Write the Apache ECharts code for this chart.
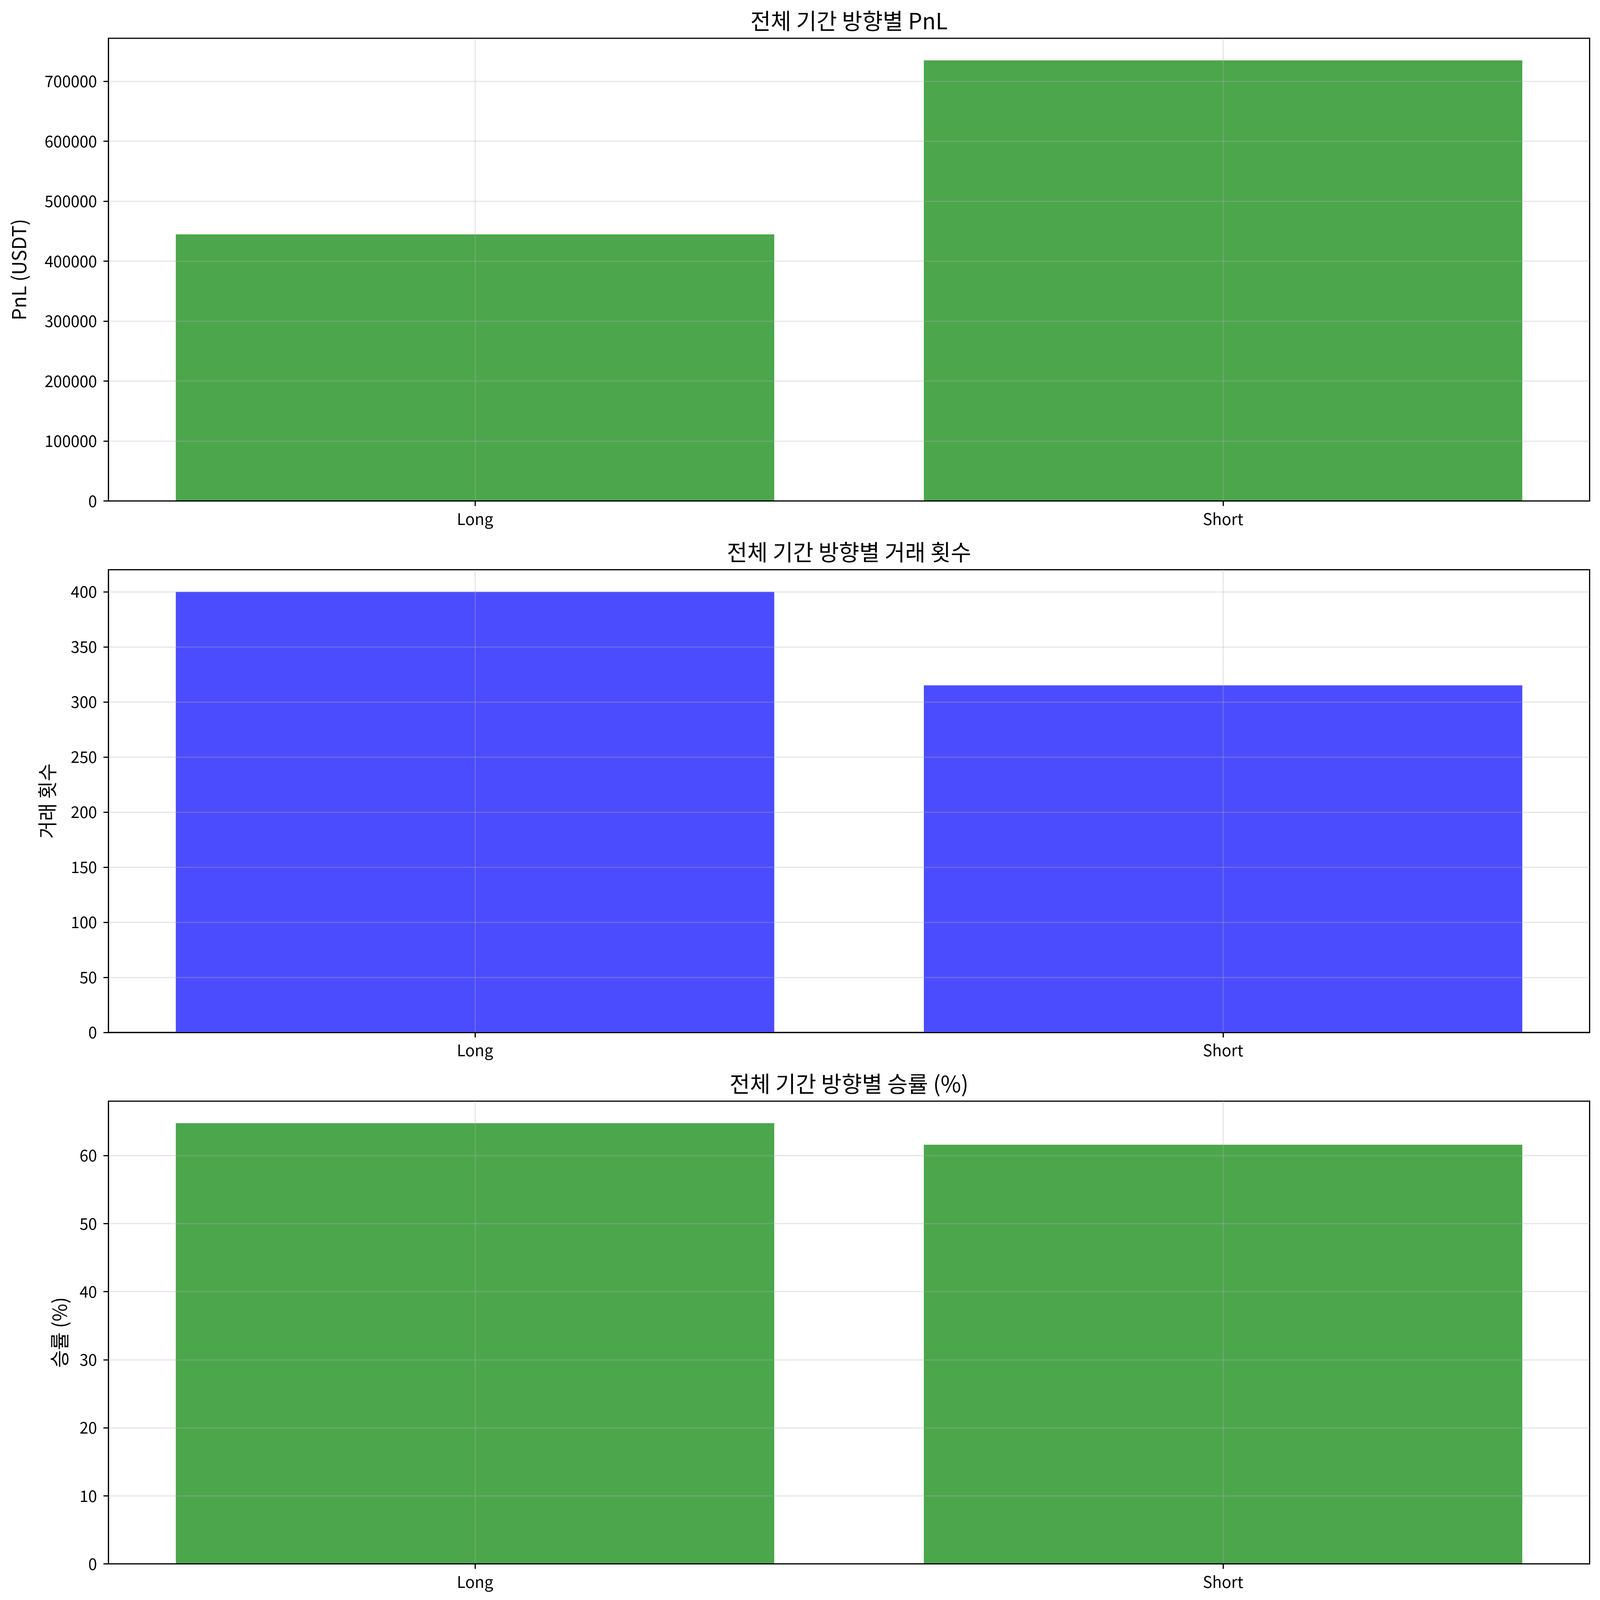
<!DOCTYPE html>
<html>
<head>
<meta charset="utf-8">
<script src="https://cdn.jsdelivr.net/npm/echarts@6/dist/echarts.min.js"></script>
<style>
  html, body { margin: 0; padding: 0; background: #fff; overflow: hidden; }
  #main { width: 100vw; height: 100vh; }
</style>
</head>
<body>
<div id="main"></div>
<script>
// 방향 (x축 카테고리)
var sides = ['Long', 'Short'];

// 방향별 데이터
var pnlValues = [444600, 734900];
var tradeCounts = [400, 315];
var winRates = [64.75, 61.59];

// y축 눈금
var pnlTicks = [0, 100000, 200000, 300000, 400000, 500000, 600000, 700000];
var countTicks = [0, 50, 100, 150, 200, 250, 300, 350, 400];
var rateTicks = [0, 10, 20, 30, 40, 50, 60];

var titles = ['전체 기간 방향별 PnL', '전체 기간 방향별 거래 횟수', '전체 기간 방향별 승률 (%)'];
var yNames = ['PnL (USDT)', '거래 횟수', '승률 (%)'];

var FONT = '"Noto Sans CJK KR", "Noto Sans", sans-serif';
var GREEN = '#4ca64c';
var BLUE = '#4c4cff';
var GRID_COLOR = 'rgba(176,176,176,0.3)';

var dom = document.getElementById('main');
// 실제 뷰포트 크기에 맞춰 스케일
var W = dom.clientWidth || window.innerWidth;
var H = dom.clientHeight || window.innerHeight;
var sx = W / 4469, sy = H / 4471, sf = Math.min(sx, sy);

var chart = echarts.init(dom);

var plotLeft = 303, plotRight = 29, plotH = 1293;
var plotTops = [107, 1592, 3077];
var nameGaps = [223, 144, 110];

// 카테고리 위치 (0, 1) - matplotlib 처럼 양쪽 여백 포함
var sidePos = sides.map(function (s, i) { return i; });

function plainNum(v) {
    return String(v);
}

function xAxisFor(i) {
    return {
        type: 'value',
        gridIndex: i,
        min: -0.49,
        max: 1.49,
        z: 3,
        axisLine: { show: true, onZero: false, lineStyle: { color: '#000', width: 3.3 * sf } },
        axisTick: { show: true, length: 14 * sy, customValues: sidePos, lineStyle: { color: '#000', width: 3.3 * sf } },
        axisLabel: {
            color: '#000', fontSize: 44 * sf, fontFamily: FONT, margin: 28 * sy,
            customValues: sidePos,
            formatter: function (v) { return sides[Math.round(v)]; }
        },
        splitLine: { show: true, lineStyle: { color: GRID_COLOR, width: 3.3 * sf } }
    };
}

function yAxisFor(i, vals, ticks, step) {
    //matplotlib 기본 여백 5%
    var top = Math.max.apply(null, vals) * 1.05;
    return {
        type: 'value',
        gridIndex: i,
        min: 0,
        max: top,
        interval: step,
        z: 3,
        name: yNames[i],
        nameLocation: 'middle',
        nameRotate: 90,
        nameGap: nameGaps[i] * sx,
        nameTextStyle: { color: '#000', fontSize: 54 * sf, fontFamily: FONT },
        axisLine: { show: true, onZero: false, lineStyle: { color: '#000', width: 3.3 * sf } },
        axisTick: { show: true, length: 14 * sx, customValues: ticks, lineStyle: { color: '#000', width: 3.3 * sf } },
        axisLabel: { color: '#000', fontSize: 44 * sf, fontFamily: FONT, margin: 32 * sx, customValues: ticks, formatter: plainNum },
        splitLine: { show: true, lineStyle: { color: GRID_COLOR, width: 3.3 * sf } }
    };
}

function barSeries(i, vals, color) {
    return {
        type: 'bar',
        xAxisIndex: i,
        yAxisIndex: i,
        data: vals.map(function (v, k) { return [sidePos[k], v]; }),
        barWidth: '80%',
        itemStyle: { color: color },
        z: 2
    };
}

var option = {
    backgroundColor: '#fff',
    animation: false,
    title: titles.map(function (t, i) {
        return {
            text: t,
            left: (plotLeft + (4469 - plotLeft - plotRight) / 2) * sx,
            top: (plotTops[i] - 80) * sy,
            textAlign: 'center',
            padding: 0,
            textStyle: { color: '#000', fontSize: 62 * sf, fontWeight: 'normal', fontFamily: FONT }
        };
    }),
    grid: plotTops.map(function (t) {
        return {
            left: plotLeft * sx,
            right: plotRight * sx,
            top: t * sy,
            height: plotH * sy,
            show: true,
            borderColor: '#000',
            borderWidth: 3.3 * sf,
            backgroundColor: 'transparent'
        };
    }),
    xAxis: [xAxisFor(0), xAxisFor(1), xAxisFor(2)],
    yAxis: [
        yAxisFor(0, pnlValues, pnlTicks, 100000),
        yAxisFor(1, tradeCounts, countTicks, 50),
        yAxisFor(2, winRates, rateTicks, 10)
    ],
    series: [
        barSeries(0, pnlValues, GREEN),
        barSeries(1, tradeCounts, BLUE),
        barSeries(2, winRates, GREEN)
    ]
};

chart.setOption(option);
</script>
</body>
</html>
